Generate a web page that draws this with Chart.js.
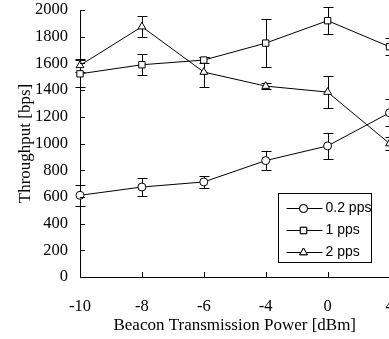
<!DOCTYPE html>
<html>
<head>
<meta charset="utf-8">
<script src="https://cdn.jsdelivr.net/npm/chart.js@4"></script>
<style>
  html, body { margin: 0; background: #fff; overflow: hidden; }
  canvas { display: block; }
</style>
</head>
<body>
<!-- canvas a bit wider than the window: the last column is cut off like in the figure -->
<canvas id="myChart" width="395" height="339"></canvas>
<script>
// data
const powers = ['-10', '-8', '-6', '-4', '0', '4'];
const seriesNames = ['0.2 pps', '1 pps', '2 pps'];
const pointStyles = ['circle', 'rect', 'triangle'];
const pps02 = [612, 674, 712, 872, 982, 1230];
const pps02Err = [80, 67, 45, 72, 100, 100];
const pps1 = [1522, 1590, 1625, 1752, 1920, 1725];
const pps1Err = [100, 80, 22, 180, 100, 62];
const pps2 = [1585, 1875, 1535, 1430, 1385, 1000];
const pps2Err = [50, 80, 110, 25, 120, 45];
const yTicks = [0, 200, 400, 600, 800, 1000, 1200, 1400, 1600, 1800, 2000];

const errors = [pps02Err, pps1Err, pps2Err];
const serif = "'Liberation Serif', 'Times New Roman', serif";

// error bars, behind the markers
const errorBars = {
  id: 'errorBars',
  beforeDatasetsDraw(chart) {
    const ctx = chart.ctx;
    const y = chart.scales.y;
    ctx.save();
    ctx.strokeStyle = '#000';
    ctx.lineWidth = 1;
    chart.data.datasets.forEach((ds, i) => {
      const meta = chart.getDatasetMeta(i);
      meta.data.forEach((pt, j) => {
        const e = errors[i][j];
        const x = Math.round(pt.x) + 0.5;
        const top = Math.round(y.getPixelForValue(ds.data[j] + e)) + 0.5;
        const bot = Math.round(y.getPixelForValue(ds.data[j] - e)) + 0.5;
        ctx.beginPath();
        ctx.moveTo(x, top); ctx.lineTo(x, bot);
        ctx.moveTo(x - 5, top); ctx.lineTo(x + 5, top);
        ctx.moveTo(x - 5, bot); ctx.lineTo(x + 5, bot);
        ctx.stroke();
      });
    });
    ctx.restore();
  }
};

// inward tick marks + boxed legend
const extras = {
  id: 'extras',
  afterDraw(chart) {
    const ctx = chart.ctx;
    const xs = chart.scales.x, ys = chart.scales.y;
    const area = chart.chartArea;
    ctx.save();
    ctx.strokeStyle = '#000';
    ctx.lineWidth = 1;
    ctx.beginPath();
    yTicks.forEach(v => {
      const py = Math.round(ys.getPixelForValue(v)) + 0.5;
      ctx.moveTo(area.left, py); ctx.lineTo(area.left + 5, py);
    });
    powers.forEach((p, i) => {
      if (i == 0) return;
      const px = Math.round(xs.getPixelForValue(i)) + 0.5;
      ctx.moveTo(px, area.bottom); ctx.lineTo(px, area.bottom - 5);
    });
    ctx.stroke();

    // legend
    const bx = 278.5, by = 193.5, bw = 93, bh = 69;
    ctx.fillStyle = '#fff';
    ctx.fillRect(bx, by, bw, bh);
    ctx.strokeRect(bx, by, bw, bh);
    ctx.font = "14px 'Liberation Sans', Arial, sans-serif";
    ctx.textBaseline = 'middle';
    chart.data.datasets.forEach((ds, i) => {
      const ry = Math.round(by + 14 + i * 22) + 0.5;
      ctx.beginPath();
      ctx.moveTo(bx + 8, ry); ctx.lineTo(bx + 44, ry);
      ctx.stroke();
      ctx.fillStyle = '#fff';
      Chart.helpers.drawPoint(ctx, {pointStyle: ds.pointStyle, radius: ds.pointRadius, borderWidth: 1, rotation: 0}, bx + 25, ry);
      ctx.fill();
      ctx.stroke();
      ctx.fillStyle = '#000';
      ctx.fillText(ds.label, bx + 47, ry);
    });
    ctx.restore();
  }
};

const ctx = document.getElementById('myChart').getContext('2d');
const values = [pps02, pps1, pps2];
const myChart = new Chart(ctx, {
  type: 'line',
  data: {
    labels: powers,
    datasets: seriesNames.map((name, i) => ({
      label: name,
      data: values[i],
      borderColor: '#000',
      borderWidth: 1,
      backgroundColor: '#fff',
      pointStyle: pointStyles[i],
      pointRadius: i == 0 ? 4 : 4.5,
      pointBorderColor: '#000',
      pointBackgroundColor: '#fff',
      pointBorderWidth: 1,
      tension: 0
    }))
  },
  options: {
    responsive: false,
    animation: false,
    layout: { padding: { left: 0, top: 10, right: 0, bottom: 0 } },
    plugins: {
      legend: { display: false },
      tooltip: { enabled: false }
    },
    scales: {
      x: {
        type: 'category',
        offset: false,
        grid: { display: false, drawTicks: false },
        border: { display: true, color: '#000', width: 1 },
        ticks: { color: '#000', padding: 20, maxRotation: 0, autoSkip: false, font: { family: serif, size: 16.5 } },
        title: { display: true, text: 'Beacon Transmission Power [dBm]', color: '#000', padding: { top: 0, bottom: 3 }, font: { family: serif, size: 17 } },
        afterFit(scale) { scale.paddingLeft = 0; scale.paddingRight = 0; scale.height = 62; }
      },
      y: {
        min: 0,
        max: 2000,
        grid: { display: false, drawTicks: false },
        border: { display: true, color: '#000', width: 1 },
        ticks: { color: '#000', stepSize: 200, padding: 12, font: { family: serif, size: 16.5 }, callback: v => String(v) },
        title: { display: true, text: 'Throughput [bps]', color: '#000', padding: { top: 15, bottom: 0 }, font: { family: serif, size: 17 } },
        afterFit(scale) { scale.paddingTop = 0; scale.paddingBottom = 0; scale.width = 80; }
      }
    }
  },
  plugins: [errorBars, extras]
});
</script>
</body>
</html>
